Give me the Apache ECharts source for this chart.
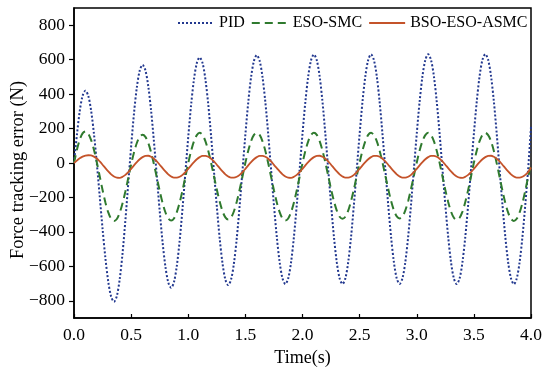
<!DOCTYPE html>
<html>
<head>
<meta charset="utf-8">
<script src="https://cdn.jsdelivr.net/npm/echarts@6/dist/echarts.min.js"></script>
<style>
html,body{margin:0;padding:0;background:#fff;}
#chart{width:550px;height:372px;}
</style>
</head>
<body>
<div id="chart"></div>
<script>
// Time axis: samples every 0.025 s from 0 to 4.0 s
const timeStart = 0;
const timeStep = 0.025;

const seriesNames = ['PID', 'ESO-SMC', 'BSO-ESO-ASMC'];
const xTickLabels = ['0.0','0.5','1.0','1.5','2.0','2.5','3.0','3.5','4.0'];
const yTickValues = [-800, -600, -400, -200, 0, 200, 400, 600, 800];

const pidValues = [
  0, 160, 300, 390, 420,
  390, 303, 167, -4, -193, -382, -553, -689, -776, -806,
  -772, -675, -523, -331, -118, 95, 287, 439, 536, 570,
  538, 446, 303, 123, -78, -278, -458, -601, -693, -725,
  -692, -597, -449, -263, -56, 151, 337, 485, 580, 613,
  581, 487, 341, 156, -48, -252, -437, -583, -677, -709,
  -676, -582, -434, -248, -42, 165, 351, 499, 593, 626,
  593, 499, 352, 167, -39, -244, -429, -576, -670, -703,
  -670, -576, -428, -242, -37, 169, 355, 503, 597, 630,
  597, 503, 355, 169, -37, -242, -428, -576, -670, -703,
  -670, -576, -428, -242, -37, 169, 355, 504, 598, 631,
  598, 504, 355, 169, -36, -241, -428, -576, -670, -702,
  -669, -575, -427, -241, -36, 170, 356, 504, 598, 632,
  598, 504, 356, 170, -36, -242, -428, -576, -670, -703,
  -670, -576, -428, -242, -36, 170, 356, 504, 599, 632,
  599, 505, 357, 170, -36, -242, -428, -576, -670, -704,
  -671, -577, -429, -242, -36, 210
];

const esoSmcValues = [
  0, 75, 135, 172, 183,
  170, 133, 76, 3, -77, -157, -230, -287, -324, -337,
  -325, -289, -234, -164, -87, -9, 61, 116, 152, 164,
  152, 116, 61, -8, -85, -162, -231, -286, -322, -334,
  -322, -285, -229, -158, -80, -1, 70, 126, 162, 175,
  163, 127, 71, 1, -77, -154, -224, -280, -316, -328,
  -316, -280, -224, -154, -77, 1, 71, 127, 163, 175,
  163, 126, 70, -1, -80, -158, -229, -285, -322, -334,
  -322, -285, -229, -158, -80, -1, 70, 126, 163, 175,
  163, 127, 72, 3, -75, -152, -221, -276, -312, -324,
  -312, -276, -221, -152, -75, 3, 72, 127, 163, 175,
  162, 127, 72, 3, -74, -150, -220, -275, -310, -322,
  -310, -275, -220, -150, -74, 3, 72, 127, 162, 175,
  163, 127, 71, 1, -78, -156, -226, -282, -318, -330,
  -318, -282, -226, -156, -78, 1, 71, 127, 163, 175,
  162, 126, 70, -2, -81, -160, -232, -288, -324, -337,
  -324, -288, -232, -160, -81, -10
];

const bsoEsoAsmcValues = [
  0, 14, 27, 37, 43, 45, 44, 37, 26, 9, -10, -30, -49, -66, -78, -85, -86, -80, -69, -53,
  -34, -14, 5, 22, 34, 41, 42, 36, 25, 9, -10, -30, -49, -66, -78, -85, -85, -80, -69, -53,
  -34, -14, 5, 22, 34, 41, 41, 36, 25, 9, -10, -30, -49, -66, -78, -85, -85, -80, -69, -53,
  -34, -14, 5, 22, 34, 41, 41, 36, 25, 9, -11, -30, -49, -66, -78, -85, -86, -80, -69, -53,
  -34, -14, 5, 22, 34, 41, 42, 36, 25, 9, -10, -30, -49, -66, -78, -85, -85, -80, -69, -53,
  -34, -14, 5, 22, 34, 41, 41, 36, 25, 9, -10, -30, -49, -66, -78, -85, -85, -80, -69, -53,
  -34, -14, 5, 22, 34, 41, 41, 36, 25, 9, -10, -30, -49, -66, -78, -85, -86, -80, -69, -53,
  -34, -14, 5, 22, 34, 41, 42, 36, 25, 9, -10, -30, -49, -66, -78, -85, -85, -80, -69, -53,
  -26
];

function pairs(values) {
  return values.map((v, i) => [+(timeStart + i * timeStep).toFixed(3), v]);
}

const FONT = '"Liberation Serif", "Times New Roman", serif';
const chart = echarts.init(document.getElementById('chart'), null, {renderer: 'canvas'});

chart.setOption({
  animation: false,
  backgroundColor: '#fff',
  textStyle: {fontFamily: FONT, color: '#000'},
  grid: {
    left: 74, right: 19, top: 8, bottom: 54,
    containLabel: false, outerBoundsMode: 'none',
    show: true, borderColor: '#000', borderWidth: 1.5, backgroundColor: 'transparent'
  },
  legend: {
    left: 172, top: 10,
    itemWidth: 36, itemHeight: 14, itemGap: 6,
    itemStyle: {opacity: 0},
    textStyle: {fontFamily: FONT, fontSize: 16, color: '#000'},
    data: seriesNames
  },
  xAxis: {
    type: 'value', min: 0, max: 4, interval: 0.5,
    name: 'Time(s)', nameLocation: 'middle', nameGap: 30,
    nameTextStyle: {fontFamily: FONT, fontSize: 18, color: '#000'},
    axisLine: {show: true, onZero: false, lineStyle: {color: '#000', width: 1.5}},
    axisTick: {show: true, inside: true, length: 4, lineStyle: {color: '#000', width: 1.2}},
    axisLabel: {
      fontFamily: FONT, fontSize: 17.5, color: '#000', margin: 8,
      formatter: (v) => xTickLabels[Math.round(v / 0.5)] || ''
    },
    splitLine: {show: false}
  },
  yAxis: {
    type: 'value', min: -900, max: 900, interval: 100,
    name: 'Force tracking error (N)', nameLocation: 'middle', nameGap: 46,
    nameMoveOverlap: false,
    nameTextStyle: {fontFamily: FONT, fontSize: 18.5, color: '#000', padding: [0, 14, 0, 0]},
    axisLine: {show: true, onZero: false, lineStyle: {color: '#000', width: 1.5}},
    axisTick: {show: true, inside: false, length: 5, customValues: yTickValues, lineStyle: {color: '#000', width: 1.2}},
    axisLabel: {
      fontFamily: FONT, fontSize: 17.5, color: '#000', margin: 9,
      customValues: yTickValues,
      formatter: (v) => (v < 0 ? '\u2212' + Math.abs(v) : String(v))
    },
    splitLine: {show: false}
  },
  series: [
    {
      name: seriesNames[0], type: 'line', data: pairs(pidValues),
      smooth: 0.3, symbol: 'none',
      lineStyle: {color: '#22388f', width: 2, type: [2, 2]},
      itemStyle: {color: '#22388f'}, z: 2
    },
    {
      name: seriesNames[1], type: 'line', data: pairs(esoSmcValues),
      smooth: 0.3, symbol: 'none',
      lineStyle: {color: '#2f7a2e', width: 2, type: [8, 5]},
      itemStyle: {color: '#2f7a2e'}, z: 3
    },
    {
      name: seriesNames[2], type: 'line', data: pairs(bsoEsoAsmcValues),
      smooth: 0.3, symbol: 'none',
      lineStyle: {color: '#c4532a', width: 1.8, type: 'solid'},
      itemStyle: {color: '#c4532a'}, z: 4
    }
  ]
});
</script>
</body>
</html>
